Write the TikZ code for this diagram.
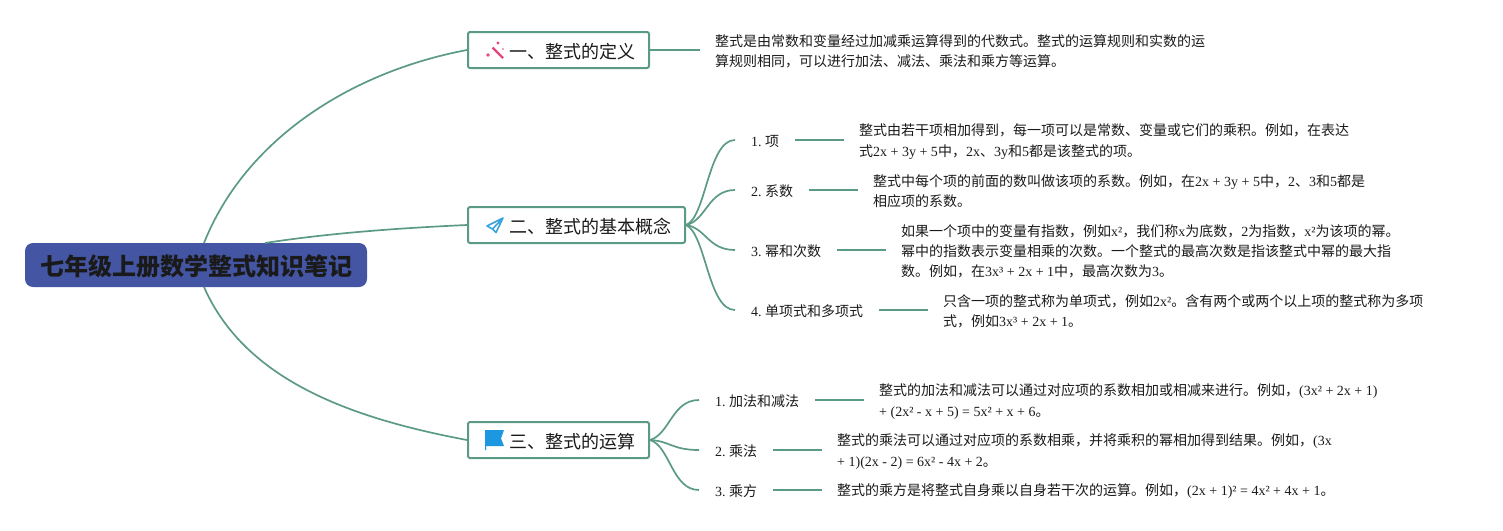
\documentclass[tikz,border=0pt]{standalone}
\usepackage{fontspec}
\setmainfont{Noto Sans CJK SC}
\newfontfamily\enfont{Liberation Serif}
\newcommand{\en}[1]{{\enfont #1}}
\frenchspacing
\definecolor{linkc}{HTML}{5B9A85}
\definecolor{rootc}{HTML}{4355A3}
\definecolor{inkc}{HTML}{1A1A1A}
\definecolor{pinkc}{HTML}{E8457A}
\definecolor{bluec}{HTML}{3BA4DC}
\definecolor{flagc}{HTML}{1D97E0}
\tikzset{
  x=1pt,y=-1pt,
  link/.style={draw=linkc,line width=1.7pt},
  rootbox/.style={fill=rootc,rounded corners=8pt,minimum width=342pt,minimum height=44pt,inner sep=0pt,text=inkc,text height=23pt,text depth=1.8pt,font=\fontsize{24}{28}\selectfont\bfseries},
  headbox/.style={draw=linkc,line width=2pt,fill=white,rounded corners=2pt,anchor=west,minimum height=36pt,inner ysep=0pt,inner xsep=14pt,text=inkc,text height=18pt,text depth=1.4pt,font=\fontsize{18}{22}\selectfont},
  lab/.style={anchor=west,inner xsep=16pt,inner ysep=0pt,text=inkc,text height=14pt,text depth=1.4pt,font=\fontsize{14}{18}\selectfont},
  txt/.style={anchor=west,inner xsep=15pt,inner ysep=0pt,yshift=-1.5pt,align=left,text=inkc,font=\fontsize{14}{20.3}\selectfont},
}
\begin{document}
\begin{tikzpicture}
\useasboundingbox (0,0) rectangle (1503,530);
% nodes
\node[rootbox] (root) at (196,265) {七年级上册数学整式知识笔记};
\node[headbox] (h1) at (467,50) {\hspace*{27pt}一、整式的定义};
\node[headbox] (h2) at (467,225) {\hspace*{27pt}二、整式的基本概念};
\node[headbox] (h3) at (467,440) {\hspace*{27pt}三、整式的运算};
\coordinate (ra) at (204,243);
\coordinate (rb) at (265,243);
\coordinate (rc) at (204,287);
\node[txt] (t1) at (700,50) {整式是由常数和变量经过加减乘运算得到的代数式。整式的运算规则和实数的运\\算规则相同，可以进行加法、减法、乘法和乘方等运算。};
\node[lab] (l21) at (735,140) {\en{1. }项};
\node[lab] (l22) at (735,190) {\en{2. }系数};
\node[lab] (l23) at (735,250) {\en{3. }幂和次数};
\node[lab] (l24) at (735,310) {\en{4. }单项式和多项式};
\node[txt] (t21) at (844,140) {整式由若干项相加得到，每一项可以是常数、变量或它们的乘积。例如，在表达\\式\en{2x + 3y + 5}中，\en{2x}、\en{3y}和\en{5}都是该整式的项。};
\node[txt] (t22) at (858,190) {整式中每个项的前面的数叫做该项的系数。例如，在\en{2x + 3y + 5}中，\en{2}、\en{3}和\en{5}都是\\相应项的系数。};
\node[txt] (t23) at (886,250) {如果一个项中的变量有指数，例如\en{x²}，我们称\en{x}为底数，\en{2}为指数，\en{x²}为该项的幂。\\幂中的指数表示变量相乘的次数。一个整式的最高次数是指该整式中幂的最大指\\数。例如，在\en{3x³ + 2x + 1}中，最高次数为\en{3}。};
\node[txt] (t24) at (928,310) {只含一项的整式称为单项式，例如\en{2x²}。含有两个或两个以上项的整式称为多项\\式，例如\en{3x³ + 2x + 1}。};
\node[lab] (l31) at (699,400) {\en{1. }加法和减法};
\node[lab] (l32) at (699,450) {\en{2. }乘法};
\node[lab] (l33) at (699,490) {\en{3. }乘方};
\node[txt] (t31) at (864,400) {整式的加法和减法可以通过对应项的系数相加或相减来进行。例如，\en{(3x² + 2x + 1)}\\\en{+ (2x² - x + 5) = 5x² + x + 6}。};
\node[txt] (t32) at (822,450) {整式的乘法可以通过对应项的系数相乘，并将乘积的幂相加得到结果。例如，\en{(3x}\\\en{+ 1)(2x - 2) = 6x² - 4x + 2}。};
\node[txt] (t33) at (822,490) {整式的乘方是将整式自身乘以自身若干次的运算。例如，\en{(2x + 1)² = 4x² + 4x + 1}。};
% connectors
\draw[link] (ra) .. controls (245,140) and (350,72) .. (h1.west);
\draw[link] (rb) .. controls (330,233) and (400,228) .. (h2.west);
\draw[link] (rc) .. controls (245,380) and (350,418) .. (h3.west);
\draw[link] (h1.east) -- (h1.east -| t1.west);
\foreach \n/\y/\c in {l21/140/218,l22/190/221,l23/250/228,l24/310/234}
  \draw[link] (h2.east) .. controls (706,\c) and (708,\y) .. (\n.west);
\foreach \n/\y/\c in {l31/400/434,l32/450/441,l33/490/446}
  \draw[link] (h3.east) .. controls (670,\c) and (672,\y) .. (\n.west);
\foreach \a/\b in {l21/t21,l22/t22,l23/t23,l24/t24,l31/t31,l32/t32,l33/t33}
  \draw[link] (\a.east) -- (\a.east -| \b.west);
% icons
\draw[pinkc,line width=2.2pt] (492.5,47.5) -- (503,58);
\fill[pinkc] (498,43) circle (1.7pt) (488,55) circle (1.8pt) (503,49) circle (0.9pt);
\draw[bluec,line width=1.6pt,line join=round] (503,218) -- (487,226) -- (492.5,229) -- (496,232.5) -- cycle (503,218) -- (492.5,229);
\fill[flagc] (485,430) -- (504,430) -- (501,438.5) -- (504,446) -- (486,446) -- (486,450) -- (485,450) -- cycle;
\end{tikzpicture}
\end{document}
